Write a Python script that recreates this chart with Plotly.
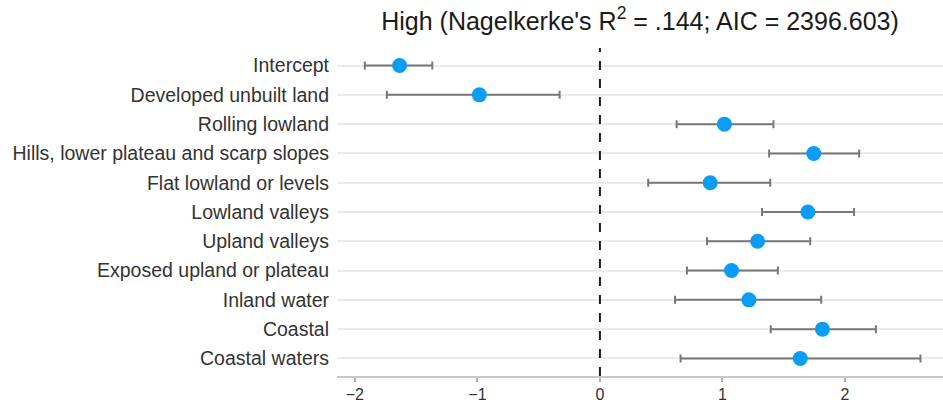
import plotly.graph_objects as go

terms = ["Intercept", "Developed unbuilt land", "Rolling lowland",
         "Hills, lower plateau and scarp slopes", "Flat lowland or levels",
         "Lowland valleys", "Upland valleys", "Exposed upland or plateau",
         "Inland water", "Coastal", "Coastal waters"]
estimate = [-1.635, -0.984, 1.016, 1.745, 0.900, 1.697, 1.287, 1.074, 1.216, 1.816, 1.635]
lower = [-1.919, -1.739, 0.626, 1.381, 0.394, 1.323, 0.874, 0.710, 0.613, 1.394, 0.658]
upper = [-1.368, -0.329, 1.416, 2.116, 1.390, 2.074, 1.716, 1.452, 1.806, 2.252, 2.616]
x_ticks = [-2, -1, 0, 1, 2]
x_tick_labels = ["\u22122", "\u22121", "0", "1", "2"]
title_text = "High (Nagelkerke's R<sup>2</sup> = .144; AIC = 2396.603)"

err_plus = [u - e for u, e in zip(upper, estimate)]
err_minus = [e - l for e, l in zip(estimate, lower)]

fig = go.Figure()
fig.add_trace(go.Scatter(
    x=estimate, y=terms, mode="markers",
    marker=dict(color="#0A9DF7", size=15, line=dict(width=0)),
    error_x=dict(type="data", symmetric=False, array=err_plus, arrayminus=err_minus,
                 color="#777777", thickness=2, width=4),
    showlegend=False,
))

fig.add_shape(type="line", xref="x", yref="paper", x0=0, x1=0, y0=0, y1=1,
              line=dict(color="#1a1a1a", width=2, dash="dash"), layer="above")

fig.update_layout(
    width=943, height=402,
    margin=dict(l=337, r=0, t=48, b=26),
    paper_bgcolor="white", plot_bgcolor="white",
    font=dict(family="Liberation Sans, Arial, sans-serif", color="#333333"),
    title=dict(text=title_text, x=0.5, xref="paper", xanchor="center",
               y=1 - 21 / 402, yref="container", yanchor="middle",
               font=dict(size=25, color="#1a1a1a")),
)
fig.update_xaxes(
    range=[-2.146, 2.80], tickvals=x_ticks, ticktext=x_tick_labels,
    showgrid=False, zeroline=False,
    showline=True, linecolor="#c8c8c8", linewidth=1.5,
    ticks="outside", ticklen=4, tickcolor="#b0b0b0", tickwidth=1.5,
    tickfont=dict(size=16, color="#333333"),
    ticklabelstandoff=-1,
    automargin=False,
)
fig.update_yaxes(
    type="category", categoryorder="array", categoryarray=terms,
    range=[10.6, -0.6],
    showgrid=True, gridcolor="#ebebeb", gridwidth=2,
    zeroline=False, showline=False, ticks="",
    ticklabelstandoff=7,
    tickfont=dict(size=19.5, color="#333333"),
    automargin=False,
)

fig.write_html("out.html", config={"displayModeBar": False},
               post_script="document.body.style.margin='0';document.body.style.overflow='hidden';")
